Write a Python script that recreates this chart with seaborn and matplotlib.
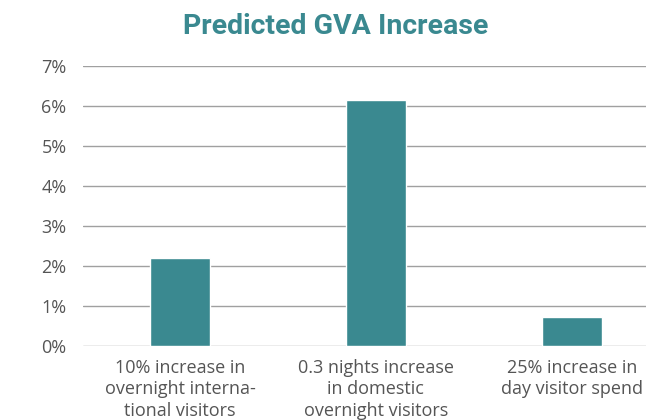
import matplotlib
matplotlib.use("Agg")
import matplotlib.pyplot as plt
import matplotlib.ticker as mtick
import seaborn as sns
import pandas as pd

categories = ["10% increase in\novernight interna-\ntional visitors",
              "0.3 nights increase\nin domestic\novernight visitors",
              "25% increase in\nday visitor spend"]
gva_increase = [2.2, 6.15, 0.72]

df = pd.DataFrame({"scenario": categories, "gva": gva_increase})

sns.set_style("white")
plt.rcParams["font.family"] = ["Open Sans", "DejaVu Sans"]

teal = "#3a8990"

fig = plt.figure(figsize=(6.49, 4.20), dpi=100)
ax = fig.add_axes([0.128, 0.176, 0.867, 0.667])

sns.barplot(data=df, x="scenario", y="gva", color=teal, width=0.306,
            saturation=1, ax=ax, zorder=3)

ax.set_ylim(0, 7)
ax.set_xlim(-0.495, 2.378)
ax.yaxis.set_major_locator(mtick.MultipleLocator(1))
ax.yaxis.set_major_formatter(mtick.FuncFormatter(lambda v, p: f"{v:.0f}%"))
ax.grid(axis="y", color="#a0a0a0", linewidth=1, zorder=0)
for s in ax.spines.values():
    s.set_visible(False)
ax.tick_params(axis="both", length=0, labelsize=13, colors="#555555")
ax.tick_params(axis="y", pad=30)
for lbl in ax.get_yticklabels():
    lbl.set_horizontalalignment("left")
ax.tick_params(axis="x", pad=9)
for lbl in ax.get_xticklabels():
    lbl.set_linespacing(1.25)
ax.set_xlabel("")
ax.set_ylabel("")

fig.text(0.518, 0.936, "Predicted GVA Increase", ha="center", va="center",
         fontsize=20.5, fontweight="bold", color=teal, family=["Roboto", "DejaVu Sans"])

fig.savefig("out.png", dpi=100)
